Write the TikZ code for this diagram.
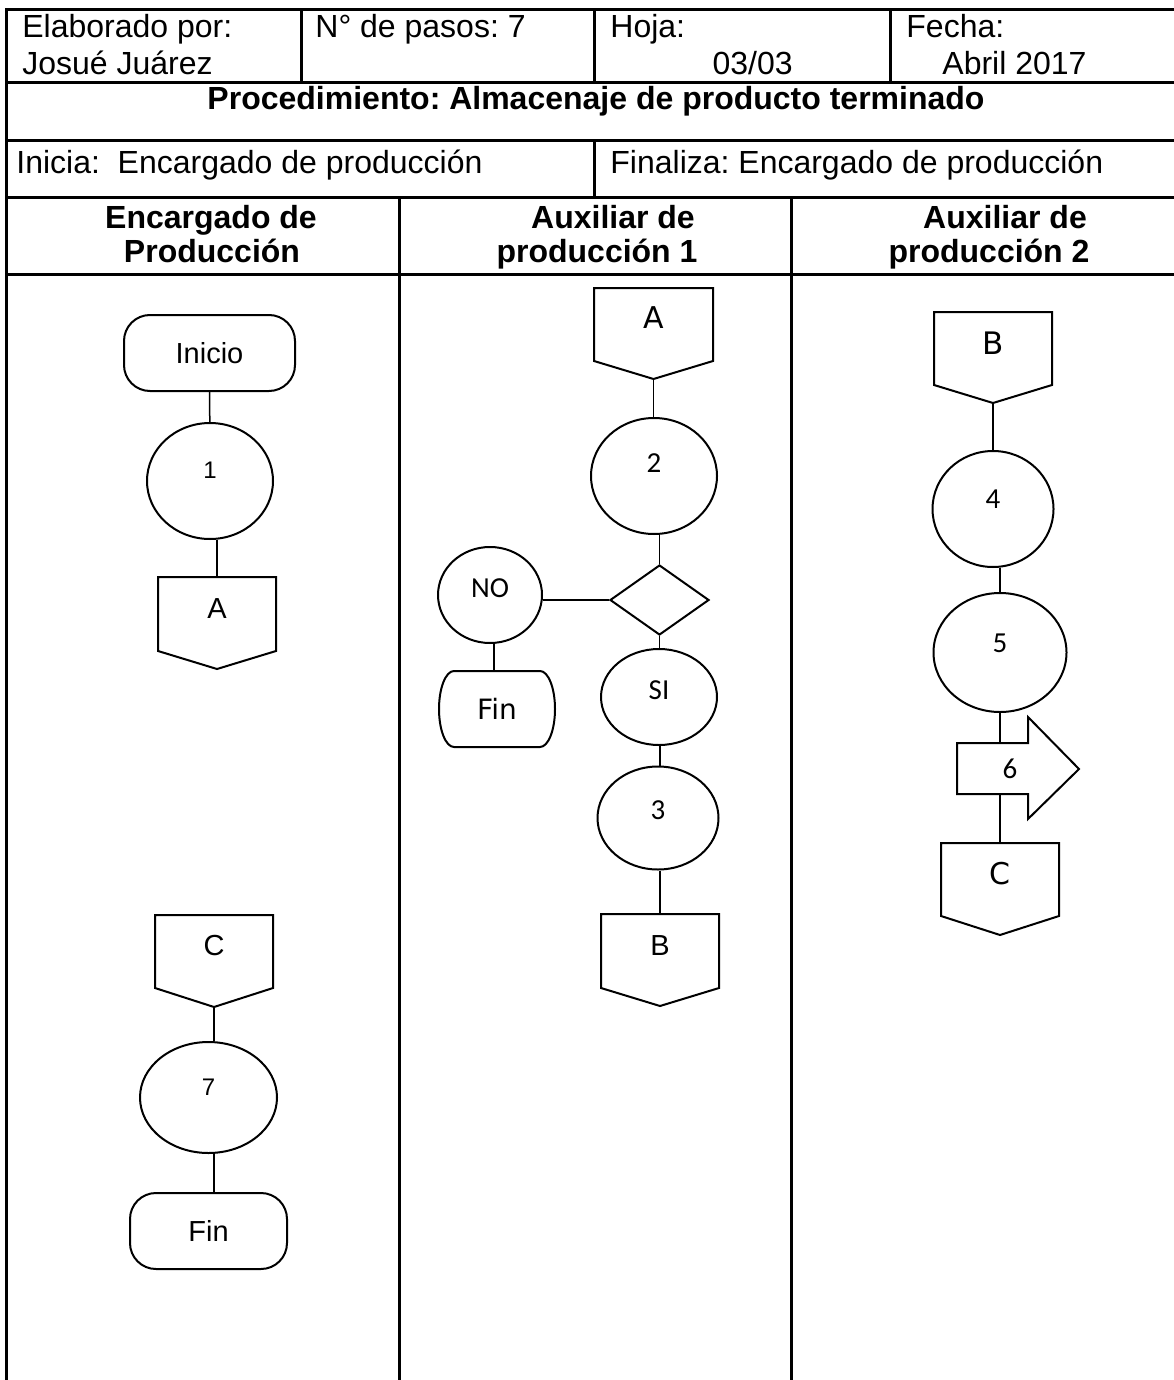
\documentclass[tikz,border=0pt]{standalone}
\usepackage{fontspec}
\setmainfont{Liberation Sans}
\newfontfamily\carlito{Carlito}
\newfontfamily\dejavu{DejaVu Sans}
\usetikzlibrary{shapes.geometric}
\frenchspacing

% off-page connector: name, centre x, top y, half width, side y, point y, label y, label
\newcommand\offpage[8]{%
  \draw[shapeline] (#2-#4,#3) -- (#2+#4,#3) -- (#2+#4,#5) -- (#2,#6) -- (#2-#4,#5) -- cycle;
  \coordinate (#1-top) at (#2,#3);
  \coordinate (#1-bot) at (#2,#6);
  \node[lbl] (#1) at (#2,#7) {#8};
}

\begin{document}
\begin{tikzpicture}[x=0.5pt,y=-0.5pt,
  grid/.style={line width=1.5pt, line cap=rect},
  shapeline/.style={draw, line width=1pt, fill=white, line join=miter},
  link/.style={line width=0.75pt},
  cell/.style={inner sep=0pt, font=\fontsize{16}{19}\selectfont},
  head/.style={inner sep=0pt, font=\fontsize{16}{19}\selectfont\bfseries},
  oval/.style={ellipse, draw, line width=1pt, fill=white, inner sep=0pt},
  term/.style={rectangle, rounded corners=13pt, draw, line width=1pt, fill=white, inner sep=0pt},
  lbl/.style={inner sep=0pt, anchor=center},
  arialtxt/.style={font=\fontsize{14.5}{17}\selectfont},
  digit/.style={font=\fontsize{12}{14}\selectfont},
  calib/.style={font=\carlito\fontsize{14.5}{17}\selectfont},
  dvtxt/.style={font=\dejavu\fontsize{15}{18}\selectfont},
]

\useasboundingbox (0,0) rectangle (1173,1380);
\fill[white] (0,0) rectangle (1173,1380);

% ---------- form grid ----------
\draw[grid] (6,1380) -- (6,10) -- (1173,10);
\draw[grid] (6,83) -- (1173,83);
\draw[grid] (6,141) -- (1173,141);
\draw[grid] (6,198) -- (1173,198);
\draw[grid] (6,274) -- (1173,274);
\draw[grid] (301,10) -- (301,83);
\draw[grid] (594,10) -- (594,83);
\draw[grid] (890,10) -- (890,83);
\draw[grid] (594,141) -- (594,198);
\draw[grid] (399,198) -- (399,1380);
\draw[grid] (791,198) -- (791,1380);

% ---------- header texts ----------
\node[cell, anchor=base west] (elab) at (22,38) {Elaborado por:};
\node[cell, anchor=base west] (autor) at (22,75) {Josué Juárez};
\node[cell, anchor=base west] (pasos) at (315,38) {N° de pasos: 7};
\node[cell, anchor=base west] (hoja) at (610,38) {Hoja:};
\node[cell, anchor=base east] (hojanum) at (793,75) {03/03};
\node[cell, anchor=base west] (fecha) at (906,38) {Fecha:};
\node[cell, anchor=base west] (fechaval) at (942,75) {Abril 2017};
\node[head, anchor=base] (proc) at (596,110) {Procedimiento: Almacenaje de producto terminado};
\node[cell, anchor=base west] (inicia) at (16,174) {Inicia:\ \ Encargado de producción};
\node[cell, anchor=base west] (finaliza) at (610,174) {Finaliza: Encargado de producción};
\node[head, anchor=base] (lane1a) at (211,228) {Encargado de};
\node[head, anchor=base] (lane1b) at (212,263) {Producción};
\node[head, anchor=base] (lane2a) at (613,228) {Auxiliar de};
\node[head, anchor=base] (lane2b) at (597,263) {producción 1};
\node[head, anchor=base] (lane3a) at (1005,228) {Auxiliar de};
\node[head, anchor=base] (lane3b) at (989,263) {producción 2};

% ---------- lane 1: Encargado de Produccion ----------
\node[term, minimum width=85.5pt, minimum height=38pt, arialtxt] (start) at (209.5,353) {Inicio};
\node[oval, minimum width=63pt, minimum height=58pt] (s1) at (210,481) {};
\node[lbl, digit] (s1t) at (210,470) {1};
\offpage{A1}{217}{577}{59}{651}{669}{609}{\fontsize{14.5}{17}\selectfont A}
\offpage{C1}{214}{915}{59}{988}{1007}{946}{\fontsize{14.5}{17}\selectfont C}
\node[oval, minimum width=68.5pt, minimum height=55.5pt] (s7) at (208.5,1097.5) {};
\node[lbl, digit] (s7t) at (208.5,1087) {7};
\node[term, minimum width=78.5pt, minimum height=38pt, arialtxt] (end1) at (208.5,1231) {Fin};

% ---------- lane 2: Auxiliar de produccion 1 ----------
\offpage{A2}{653.5}{288}{59.5}{361}{379}{318}{\dejavu\fontsize{15}{18}\selectfont A}
\node[oval, minimum width=63pt, minimum height=58pt] (s2) at (654,476) {};
\node[lbl, calib] (s2t) at (654,463) {2};
\node[diamond, draw, line width=1pt, fill=white, inner sep=0pt,
      minimum width=49.5pt, minimum height=35pt] (dec) at (659.5,600) {};
\node[oval, minimum width=52pt, minimum height=48pt] (sno) at (490,595) {};
\node[lbl, calib] (snot) at (490,588) {NO};
% Fin box with elliptic ends
\draw[shapeline] (454,671) -- (540,671)
  arc[start angle=-90, end angle=90, x radius=15, y radius=38] -- (454,747)
  arc[start angle=90, end angle=270, x radius=15, y radius=38] -- cycle;
\node[inner sep=0pt, minimum width=58pt, minimum height=38pt,
      font=\dejavu\fontsize{14}{17}\selectfont] (end2) at (497,709) {Fin};
\node[oval, minimum width=58pt, minimum height=48pt] (ssi) at (659,697) {};
\node[lbl, calib] (ssit) at (659,690) {SI};
\node[oval, minimum width=60.5pt, minimum height=51.5pt] (s3) at (658,818) {};
\node[lbl, calib] (s3t) at (658,810) {3};
\offpage{B2}{660}{914}{59}{988}{1006}{946}{\fontsize{14.5}{17}\selectfont B}

% ---------- lane 3: Auxiliar de produccion 2 ----------
\offpage{B3}{993}{312}{59}{385}{403}{343}{\dejavu\fontsize{15.5}{18}\selectfont B}
\node[oval, minimum width=60.5pt, minimum height=58pt] (s4) at (993,509) {};
\node[lbl, calib] (s4t) at (993,499) {4};
\node[oval, minimum width=66.5pt, minimum height=59.5pt] (s5) at (1000,652.5) {};
\node[lbl, calib] (s5t) at (1000,643) {5};
\draw[shapeline] (957,743) -- (1028,743) -- (1028,717) -- (1079,769)
  -- (1028,819) -- (1028,794) -- (957,794) -- cycle;
\coordinate (a6-top) at (1000,743);
\coordinate (a6-bot) at (1000,794);
\node[lbl, calib] (s6t) at (1010,769) {6};
\offpage{C3}{1000}{843}{59}{916}{935}{874}{\dejavu\fontsize{15}{18}\selectfont C}

% ---------- connectors ----------
\draw[link] (start) -- (s1);
\draw[link] (A1-top |- s1.south) -- (A1-top);
\draw[link] (C1-bot) -- (C1-bot |- s7.north);
\draw[link] (C1-bot |- s7.south) -- (C1-bot |- end1.north);

\draw[link] (A2-bot) -- (A2-bot |- s2.north);
\draw[link] (dec.north |- s2.south) -- (dec.north);
\draw[link] (dec.west) -- (dec.west -| sno.east);
\draw[link] ([xshift=2pt]sno.south) -- ([xshift=2pt]sno.south |- end2.north);
\draw[link] (dec.south) -- (dec.south |- ssi.north);
\draw[link] (B2-top |- ssi.south) -- (B2-top |- s3.north);
\draw[link] (B2-top |- s3.south) -- (B2-top);

\draw[link] (B3-bot) -- (B3-bot |- s4.north);
\draw[link] (s5.north |- s4.south) -- (s5.north);
\draw[link] (s5.south) -- (a6-top);
\draw[link] (a6-bot) -- (C3-top);

\end{tikzpicture}
\end{document}
